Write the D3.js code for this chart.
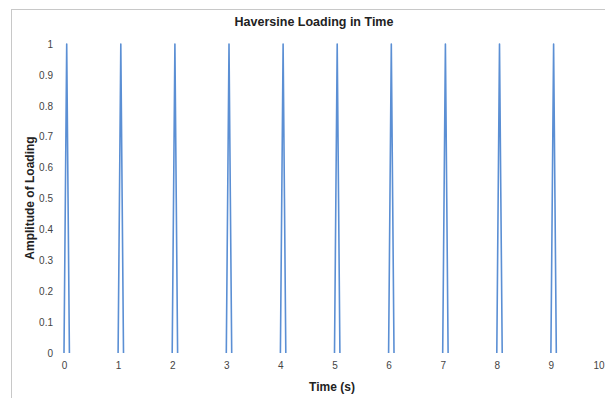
<!DOCTYPE html>
<html><head><meta charset="utf-8">
<script src="https://cdn.jsdelivr.net/npm/d3@7"></script>
<style>body{margin:0;background:#fff;}svg{display:block;}</style>
</head><body>
<svg id="c" width="605" height="398"></svg>
<script>
const pulseStarts = [0,1,2,3,4,5,6,7,8,9];
const pulseOffsets = [0, 0.025, 0.05, 0.075, 0.1];
const pulseAmplitudes = [0, 0.5, 1, 0.5, 0];
const xTicks = [0,1,2,3,4,5,6,7,8,9,10];
const yTicks = [0,0.1,0.2,0.3,0.4,0.5,0.6,0.7,0.8,0.9,1];

const svg = d3.select("#c");
svg.append("rect").attr("x",11.5).attr("y",9.5).attr("width",700).attr("height",500)
  .attr("fill","#fff").attr("stroke","#c8c8c8").attr("stroke-width",1);

const x = d3.scaleLinear().domain([0,10]).range([64,605]);
const y = d3.scaleLinear().domain([0,1]).range([353,44]);

const font = "'Liberation Sans', Arial, sans-serif";
svg.append("text").attr("x",314).attr("y",26).attr("text-anchor","middle")
  .attr("font-family",font).attr("font-weight","bold").attr("font-size",12.5).attr("fill","#222")
  .text("Haversine Loading in Time");

const yAxis = d3.axisLeft(y).tickValues(yTicks).tickSize(0).tickPadding(0).tickFormat(d3.format("~g"));
const gy = svg.append("g").attr("transform","translate(53,0)").call(yAxis);
gy.select(".domain").remove();
gy.selectAll("text").attr("font-family",font).attr("font-size",10).attr("fill","#444");

const xAxis = d3.axisBottom(x).tickValues(xTicks).tickSize(0).tickPadding(0).tickFormat(d3.format("d"));
const gx = svg.append("g").attr("transform","translate(0,362)").call(xAxis);
gx.select(".domain").remove();
gx.selectAll("text").attr("font-family",font).attr("font-size",10).attr("fill","#444");
gx.selectAll(".tick").filter(d=>d===10).select("text").attr("text-anchor","end").attr("x",-1);

svg.append("text").attr("transform","translate(34,198) rotate(-90)").attr("text-anchor","middle")
  .attr("font-family",font).attr("font-weight","bold").attr("font-size",12).attr("fill","#222")
  .text("Amplitude of Loading");
svg.append("text").attr("x",332).attr("y",391).attr("text-anchor","middle")
  .attr("font-family",font).attr("font-weight","bold").attr("font-size",12).attr("fill","#222")
  .text("Time (s)");

const line = d3.line().x(d=>x(d[0])).y(d=>y(d[1]));
pulseStarts.forEach(s=>{
  const pts = pulseOffsets.map((o,i)=>[s+o, pulseAmplitudes[i]]);
  svg.append("path").datum(pts).attr("d",line).attr("fill","none")
    .attr("stroke","#5b8fd4").attr("stroke-width",1.6).attr("stroke-linejoin","round");
});
</script>
</body></html>
